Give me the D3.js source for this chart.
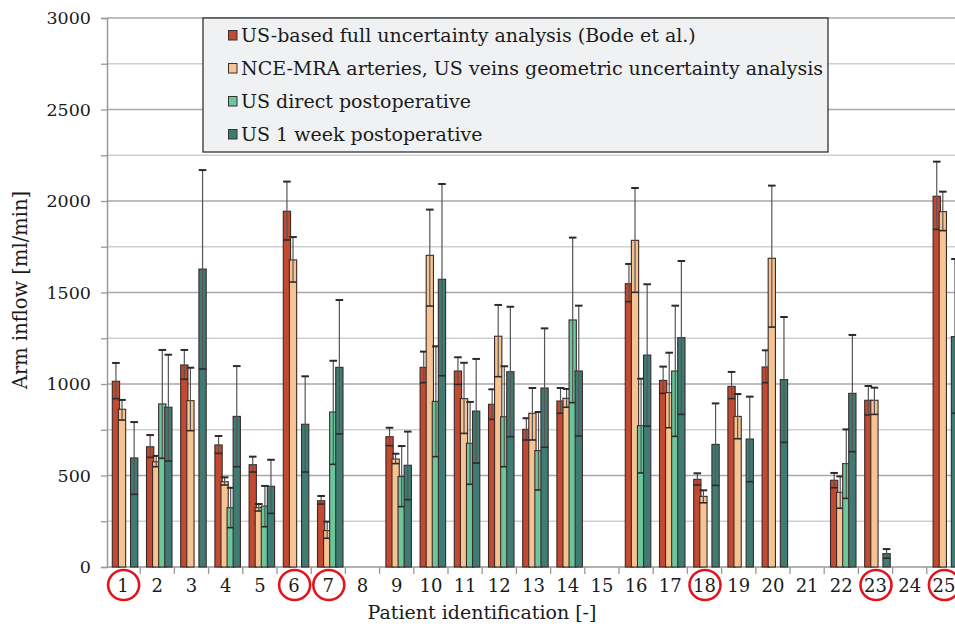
<!DOCTYPE html>
<html>
<head>
<meta charset="utf-8">
<script src="https://cdn.jsdelivr.net/npm/d3@7"></script>
<style>
  body { margin: 0; background: #fff; }
  svg { display: block; font-family: "DejaVu Serif", serif; }
</style>
</head>
<body>
<div id="chart"></div>
<script>
// patients on the x axis
const patients = d3.range(1, 26).map(String);
const circled = ["1", "6", "7", "18", "23", "25"];

const seriesNames = [
    "US-based full uncertainty analysis (Bode et al.)",
    "NCE-MRA arteries, US veins geometric uncertainty analysis",
    "US direct postoperative",
    "US 1 week postoperative"
];
const seriesColors = ["#c24a31", "#f6c492", "#6cc69b", "#3e7c73"];

// values (null = no bar)
const usFull    = [1015, 657, 1104, 667, 559, 1944, 362, null, 712, 1091, 1071, 889, 752, 907, null, 1548, 1020, 479, 987, 1093, null, 474, 911, null, 2026];
const usFullLo  = [920, 599, 1026, 621, 519, 1787, 344, null, 663, 1007, 998, 807, 694, 840, null, 1450, 949, 448, 920, 1007, null, 433, 831, null, 1845];
const usFullHi  = [1115, 721, 1186, 716, 603, 2106, 388, null, 761, 1177, 1146, 971, 813, 978, null, 1656, 1095, 512, 1066, 1184, null, 514, 989, null, 2215];

const nceMra    = [862, 575, 909, 466, 324, 1678, 199, null, 590, 1703, 920, 1261, 840, 922, null, 1785, 953, 386, 823, 1687, null, 408, 911, null, 1942];
const nceMraLo  = [803, 548, 745, 448, 306, 1557, 157, null, 565, 1426, 730, 1040, 694, 873, null, 1501, 761, 351, 701, 1311, null, 321, 834, null, 1838];
const nceMraHi  = [913, 607, 1089, 490, 344, 1803, 248, null, 619, 1953, 1116, 1432, 978, 973, null, 2071, 1171, 419, 945, 2084, null, 495, 980, null, 2051];

const usDirect   = [null, 891, null, 324, 333, null, 847, null, 494, 905, 676, 821, 636, 1350, null, 772, 1071, null, null, null, null, 565, null, null, null];
const usDirectLo = [null, 594, null, 215, 220, null, 561, null, 330, 603, 452, 548, 421, 898, null, 514, 714, null, null, null, null, 375, null, null, null];
const usDirectHi = [null, 1186, null, 433, 443, null, 1127, null, 661, 1206, 902, 1097, 847, 1800, null, 1029, 1428, null, null, null, null, 752, null, null, null];

const usWeek    = [596, 873, 1628, 823, 441, 780, 1091, null, 556, 1572, 852, 1067, 978, 1071, null, 1158, 1253, 670, 699, 1024, null, 949, 73, null, 1259];
const usWeekLo  = [397, 579, 1082, 548, 293, 519, 727, null, 368, 1045, 568, 712, 654, 716, null, 770, 834, 446, 466, 681, null, 630, 48, null, 840];
const usWeekHi  = [792, 1160, 2169, 1098, 586, 1042, 1459, null, 740, 2093, 1137, 1422, 1304, 1428, null, 1545, 1672, 894, 931, 1366, null, 1268, 98, null, 1683];

const yTicks = [0, 500, 1000, 1500, 2000, 2500, 3000];

function drawChart() {
    const W = 955, H = 626;
    const svg = d3.select("#chart").append("svg")
        .attr("width", W).attr("height", H);

    const values = [usFull, nceMra, usDirect, usWeek];
    const lows = [usFullLo, nceMraLo, usDirectLo, usWeekLo];
    const highs = [usFullHi, nceMraHi, usDirectHi, usWeekHi];

    // plot runs past the right edge, like the cropped original
    const x0 = d3.scaleBand().domain(patients).range([106, 106 + 25 * 34.2]);
    const x1 = d3.scaleBand().domain(d3.range(4)).range([6.3, 30.6]);
    const y = d3.scaleLinear().domain([0, 3000]).range([567, 18]);

    // grid
    const grid = svg.append("g");
    d3.range(250, 3001, 250).forEach(function (v) {
        const major = v % 500 === 0;
        grid.append("line")
            .attr("x1", 107).attr("x2", W)
            .attr("y1", y(v)).attr("y2", y(v))
            .attr("stroke", major ? "#a9a9a9" : "#cfcfcf")
            .attr("stroke-width", major ? 1.6 : 1.4);
    });

    // y axis
    const yAxis = svg.append("g")
        .attr("transform", "translate(107,0)")
        .call(d3.axisLeft(y).tickValues(d3.range(0, 3001, 250)).tickSize(6)
            .tickFormat(d => yTicks.includes(d) ? d : ""));
    yAxis.select(".domain").attr("stroke", "#999").attr("stroke-width", 1.5);
    yAxis.selectAll(".tick line").attr("stroke", "#999").attr("stroke-width", 1.3);
    yAxis.selectAll(".tick text")
        .attr("x", -16)
        .style("font-family", "DejaVu Serif")
        .style("font-size", "17.5px")
        .attr("fill", "#1a1a1a");

    // x axis line + separators
    svg.append("line")
        .attr("x1", 107).attr("x2", W)
        .attr("y1", 567).attr("y2", 567)
        .attr("stroke", "#999").attr("stroke-width", 1.5);
    svg.append("g").selectAll("line")
        .data(patients.slice(1))
        .enter().append("line")
        .attr("x1", d => x0(d)).attr("x2", d => x0(d))
        .attr("y1", 567).attr("y2", 574)
        .attr("stroke", "#999").attr("stroke-width", 1.3);

    svg.append("g").selectAll("text")
        .data(patients)
        .enter().append("text")
        .attr("x", d => x0(d) + x0.bandwidth() / 2)
        .attr("y", 592)
        .attr("text-anchor", "middle")
        .style("font-size", "18px")
        .attr("fill", "#1a1a1a")
        .text(d => d);

    // red rings round some patients
    svg.append("g").selectAll("ellipse")
        .data(circled)
        .enter().append("ellipse")
        .attr("cx", d => x0(d) + x0.bandwidth() / 2 + 0.5)
        .attr("cy", 585)
        .attr("rx", 15.5).attr("ry", 15)
        .attr("fill", "none")
        .attr("stroke", "#e3151c")
        .attr("stroke-width", 2.6);

    // bars
    const bw = x1.bandwidth();
    values.forEach(function (vals, s) {
        const items = patients.map((p, i) => ({ p: p, v: vals[i], lo: lows[s][i], hi: highs[s][i] }))
            .filter(d => d.v !== null);
        const g = svg.append("g");
        g.selectAll("rect")
            .data(items)
            .enter().append("rect")
            .attr("x", d => x0(d.p) + x1(s))
            .attr("y", d => y(d.v))
            .attr("width", bw + 1.2)
            .attr("height", d => y(0) - y(d.v))
            .attr("fill", seriesColors[s])
            .attr("stroke", "#3b2a28")
            .attr("stroke-width", 1.1);

        // error bars
        const eb = g.selectAll("g.err")
            .data(items)
            .enter().append("g")
            .attr("class", "err")
            .attr("stroke", "#2b2b2b")
            .attr("stroke-width", 1.2);
        const cx = d => x0(d.p) + x1(s) + (bw + 1.2) / 2;
        eb.append("line")
            .attr("x1", cx).attr("x2", cx)
            .attr("y1", d => y(d.lo)).attr("y2", d => y(d.hi))
            .attr("stroke", "#555");
        eb.append("line")
            .attr("x1", d => cx(d) - 3.8).attr("x2", d => cx(d) + 3.8)
            .attr("y1", d => y(d.hi)).attr("y2", d => y(d.hi))
            .attr("stroke-width", 2);
        eb.append("line")
            .attr("x1", d => cx(d) - 3.8).attr("x2", d => cx(d) + 3.8)
            .attr("y1", d => y(d.lo)).attr("y2", d => y(d.lo))
            .attr("stroke-width", 1.6);
    });

    // legend
    const leg = svg.append("g");
    leg.append("rect")
        .attr("x", 203).attr("y", 18)
        .attr("width", 625).attr("height", 134)
        .attr("fill", "#f0f1f3")
        .attr("stroke", "#333").attr("stroke-width", 1.3);
    seriesNames.forEach(function (name, i) {
        const cy = 35 + i * 33;
        leg.append("rect")
            .attr("x", 228.5).attr("y", cy - 4.5)
            .attr("width", 8.5).attr("height", 9.5)
            .attr("fill", seriesColors[i])
            .attr("stroke", "#333").attr("stroke-width", 1);
        leg.append("text")
            .attr("x", 241).attr("y", cy + 6.5)
            .style("font-size", "19px")
            .attr("fill", "#1a1a1a")
            .text(name);
    });

    // axis titles
    svg.append("text")
        .attr("transform", "translate(27,290) rotate(-90)")
        .attr("text-anchor", "middle")
        .style("font-size", "19.5px")
        .attr("fill", "#1a1a1a")
        .text("Arm inflow [ml/min]");
    svg.append("text")
        .attr("x", 482).attr("y", 619)
        .attr("text-anchor", "middle")
        .style("font-size", "19px")
        .attr("fill", "#1a1a1a")
        .text("Patient identification [-]");
}
drawChart();
</script>
</body>
</html>
